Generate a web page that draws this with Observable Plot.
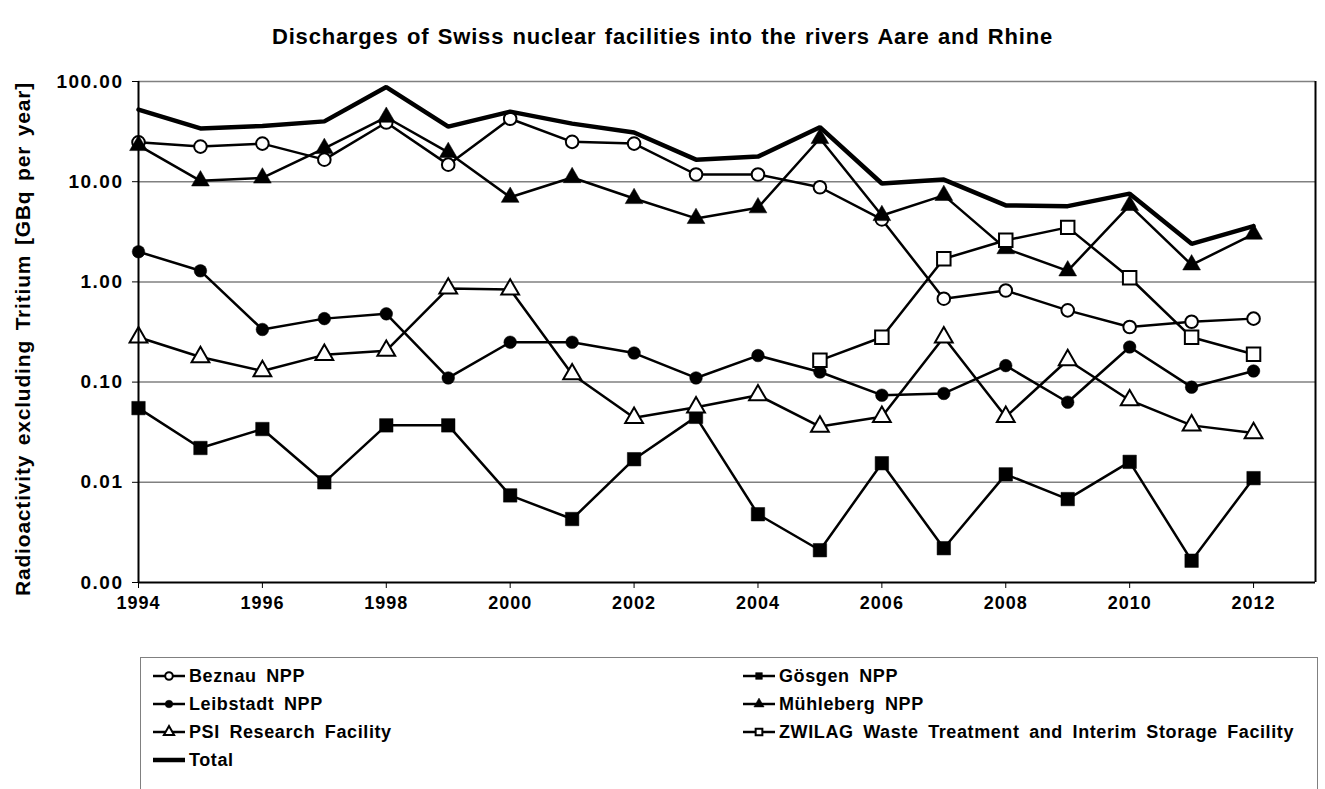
<!DOCTYPE html>
<html><head><meta charset="utf-8">
<script src="https://cdn.jsdelivr.net/npm/d3@7"></script>
<script src="https://cdn.jsdelivr.net/npm/@observablehq/plot@0.6"></script>
<style>
body{margin:0;background:#fff;font-family:"Liberation Sans",Arial,sans-serif;}
#wrap{position:relative;width:1325px;height:789px;overflow:hidden;background:#fff;}
#title{position:absolute;top:24px;left:0;width:1325px;text-align:center;font-weight:bold;font-size:22px;letter-spacing:0.8px;word-spacing:1.5px;}
#chart{position:absolute;top:0;left:0;}
#chart g[aria-label="y-axis tick label"] text{letter-spacing:1.5px;}
#chart g[aria-label="x-axis tick label"] text{letter-spacing:1px;}
#chart g[aria-label="text"] text{letter-spacing:0.8px;word-spacing:3px;}
#legend{position:absolute;left:140px;top:657px;width:1178px;height:140px;border:1px solid #808080;box-sizing:border-box;}
.item{position:absolute;display:flex;align-items:center;font-weight:bold;font-size:18px;letter-spacing:0.6px;word-spacing:4px;height:24px;}
.item svg{margin-right:2px;}
</style></head><body>
<div id="wrap">
<div id="title">Discharges of Swiss nuclear facilities into the rivers Aare and Rhine</div>
<div id="chart"></div>
<div id="legend"></div>
</div>
<script>
const years = [1994,1995,1996,1997,1998,1999,2000,2001,2002,2003,2004,2005,2006,2007,2008,2009,2010,2011,2012];
const beznau    = [24.7,22.4,24,16.6,39,14.8,42.5,25,24,11.8,11.8,8.8,4.2,0.68,0.82,0.52,0.355,0.40,0.43];
const goesgen   = [0.055,0.022,0.034,0.0100,0.037,0.037,0.0074,0.0043,0.017,0.045,0.0048,0.0021,0.0155,0.0022,0.012,0.0068,0.016,0.00165,0.011];
const leibstadt = [2.0,1.29,0.335,0.43,0.48,0.11,0.25,0.25,0.195,0.11,0.184,0.126,0.074,0.077,0.146,0.063,0.224,0.089,0.129];
const muehleberg= [23,10.2,10.9,21.5,44,19.6,7.0,11,6.8,4.3,5.5,27,4.6,7.3,2.15,1.29,5.8,1.48,3.0];
const psi       = [0.28,0.178,0.129,0.187,0.206,0.86,0.84,0.12,0.044,0.056,0.074,0.036,0.045,0.28,0.045,0.166,0.066,0.037,0.031];
const zwilag    = [null,null,null,null,null,null,null,null,null,null,null,0.165,0.28,1.7,2.6,3.5,1.1,0.28,0.19];
const total     = [52.5,34,36,40,88,35.5,50,38,31,16.6,17.8,35,9.6,10.5,5.8,5.7,7.6,2.4,3.6];

const yTicks = [100,10,1,0.1,0.01,0.001];
const xTicks = [1994,1996,1998,2000,2002,2004,2006,2008,2010,2012];

const seriesNames = ["Beznau NPP","Gösgen NPP","Leibstadt NPP","Mühleberg NPP","PSI Research Facility","ZWILAG Waste Treatment and Interim Storage Facility","Total"];
const seriesValues = [beznau,goesgen,leibstadt,muehleberg,psi,zwilag,total];
const seriesSymbol = ["circle","square","circle","triangle","triangle","square",null];
const seriesFill   = ["white","black","black","black","white","white",null];

const rows = (vals) => years.map((y,i)=>({year:y,value:vals[i]})).filter(d=>d.value!=null);

const symR = {circle:6.3, square:7.6, triangle:6.6};

const marks = [
  Plot.ruleY(yTicks.slice(0,5), {stroke:"#808080", strokeWidth:1.5}),
  Plot.ruleX([2013], {stroke:"#000", strokeWidth:2}),
];
seriesValues.forEach((vals,i)=>{
  const data = rows(vals);
  const isTotal = seriesSymbol[i]===null;
  marks.push(Plot.line(data,{x:"year",y:"value",stroke:"black",strokeWidth:isTotal?4.5:2.5,strokeLinejoin:"miter"}));
  if(!isTotal){
    marks.push(Plot.dot(data,{x:"year",y:"value",symbol:seriesSymbol[i],r:symR[seriesSymbol[i]],
      fill:seriesFill[i],stroke:"black",strokeWidth:seriesFill[i]==="white"?2:0.5}));
  }
});
marks.push(Plot.axisY({ticks:yTicks,tickFormat:d3.format(".2f"),tickSize:6,tickPadding:9,
  fontSize:19,fontWeight:"bold",label:null,stroke:"black"}));
marks.push(Plot.axisX({ticks:xTicks,tickFormat:d=>String(d),tickSize:6,tickPadding:8,
  fontSize:18,fontWeight:"bold",label:null}));
marks.push(Plot.ruleX([1994],{stroke:"black",strokeWidth:2}));
marks.push(Plot.ruleY([0.001],{stroke:"black",strokeWidth:2}));
marks.push(Plot.text(["Radioactivity excluding Tritium [GBq per year]"],{frameAnchor:"left",textAnchor:"middle",dx:-115,dy:7,rotate:-90,
  fontSize:21,fontWeight:"bold",fill:"black"}));

const chart = Plot.plot({
  width:1325, height:640,
  marginLeft:138, marginRight:10, marginTop:81, marginBottom:58,
  style:{fontFamily:"'Liberation Sans', Arial, sans-serif",color:"black",background:"transparent"},
  x:{domain:[1994,2013]},
  y:{type:"log",domain:[0.001,100]},
  marks
});
document.getElementById("chart").appendChild(chart);

// legend
const legend = document.getElementById("legend");
const pos = [[10,6],[600,6],[10,34],[600,34],[10,62],[600,62],[10,90]];
seriesNames.forEach((name,i)=>{
  const div = document.createElement("div");
  div.className="item";
  div.style.left=pos[i][0]+"px"; div.style.top=pos[i][1]+"px";
  const s = d3.create("svg").attr("width",36).attr("height",20);
  const isTotal = seriesSymbol[i]===null;
  s.append("line").attr("x1",2).attr("x2",34).attr("y1",10).attr("y2",10).attr("stroke","black").attr("stroke-width",isTotal?4.5:2.5);
  if(!isTotal){
    s.append("path").attr("transform","translate(18,10)")
     .attr("d",d3.symbol(seriesSymbol[i]==="circle"?d3.symbolCircle:seriesSymbol[i]==="square"?d3.symbolSquare:d3.symbolTriangle, 45)())
     .attr("fill",seriesFill[i]).attr("stroke","black").attr("stroke-width",seriesFill[i]==="white"?2:0.5);
  }
  div.appendChild(s.node());
  const t=document.createElement("span"); t.textContent=name; div.appendChild(t);
  legend.appendChild(div);
});
</script>
</body></html>
